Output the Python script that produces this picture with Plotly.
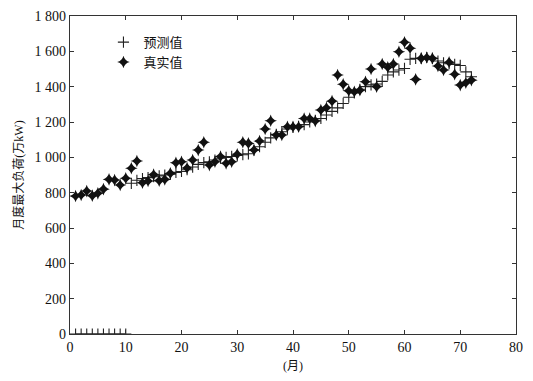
import plotly.graph_objects as go

months = list(range(1, 73))
real_values = [781, 787, 809, 783, 796, 820, 875, 871, 843, 881,
               938, 979, 856, 866, 902, 868, 875, 909, 969, 975,
               940, 985, 1041, 1085, 956, 975, 1005, 966, 975, 1017,
               1085, 1079, 1041, 1092, 1160, 1207, 1126, 1126, 1173, 1173,
               1173, 1220, 1220, 1205, 1268, 1281, 1318, 1466, 1413, 1377,
               1371, 1380, 1428, 1500, 1400, 1528, 1510, 1528, 1598, 1651,
               1617, 1441, 1560, 1565, 1560, 1517, 1494, 1538, 1470, 1409,
               1422, 1437]
pred_values = [0, 0, 0, 0, 0, 0, 0, 0, 0, 0,
               853, 870, 880, 885, 890, 895, 900, 905, 915, 920,
               930, 945, 960, 970, 975, 985, 995, 1000, 1005, 1010,
               1015, 1020, 1040, 1060, 1085, 1110, 1130, 1145, 1160, 1170,
               1175, 1185, 1200, 1210, 1220, 1240, 1260, 1280, 1305, 1340,
               1365, 1385, 1400, 1410, 1415, 1430, 1466, 1484, 1494, 1503,
               1555, 1560, 1560, 1565, 1560, 1545, 1535, 1530, 1526, 1520,
               1484, 1456]
x_ticks = [0, 10, 20, 30, 40, 50, 60, 70, 80]
y_ticks = [0, 200, 400, 600, 800, 1000, 1200, 1400, 1600, 1800]
y_tick_text = ["0", "200", "400", "600", "800", "1 000", "1 200", "1 400", "1 600", "1 800"]

font_main = "Liberation Serif, Noto Sans CJK SC, serif"

fig = go.Figure()
fig.add_trace(go.Scatter(
    x=months, y=pred_values, mode="markers", name="预测值",
    marker=dict(symbol="cross-thin-open", size=8, color="#222",
                line=dict(color="#222", width=1.1)),
))
fig.add_trace(go.Scatter(
    x=months, y=real_values, mode="markers", name="真实值",
    marker=dict(symbol="star-diamond", size=9, color="#111",
                line=dict(width=0)),
))

axis_common = dict(
    showline=True, linecolor="#333", linewidth=1.2, mirror="ticks",
    ticks="inside", ticklen=4, tickcolor="#333", showgrid=False, zeroline=False,
    automargin=False,
    tickfont=dict(family=font_main, size=14, color="#111"),
)

fig.update_layout(
    width=533, height=381,
    margin=dict(l=70, r=17, t=16, b=47),
    paper_bgcolor="white", plot_bgcolor="white",
    showlegend=True,
    legend=dict(x=0.075, y=0.965, xanchor="left", yanchor="top",
                bgcolor="rgba(0,0,0,0)", font=dict(family=font_main, size=13, color="#111"),
                itemwidth=30, tracegroupgap=0),
    xaxis=dict(range=[0, 80], tickvals=x_ticks,
               title=dict(text="(月)", font=dict(family=font_main, size=12, color="#111"), standoff=7),
               **axis_common),
    yaxis=dict(range=[0, 1800], tickvals=y_ticks, ticktext=y_tick_text,
               title=dict(text="月度最大负荷(万kW)", font=dict(family=font_main, size=12, color="#111"), standoff=8),
               **axis_common),
)

fig.write_html("out.html", config={"displayModeBar": False},
               post_script="document.body.style.margin='0';document.body.style.overflow='hidden';")
